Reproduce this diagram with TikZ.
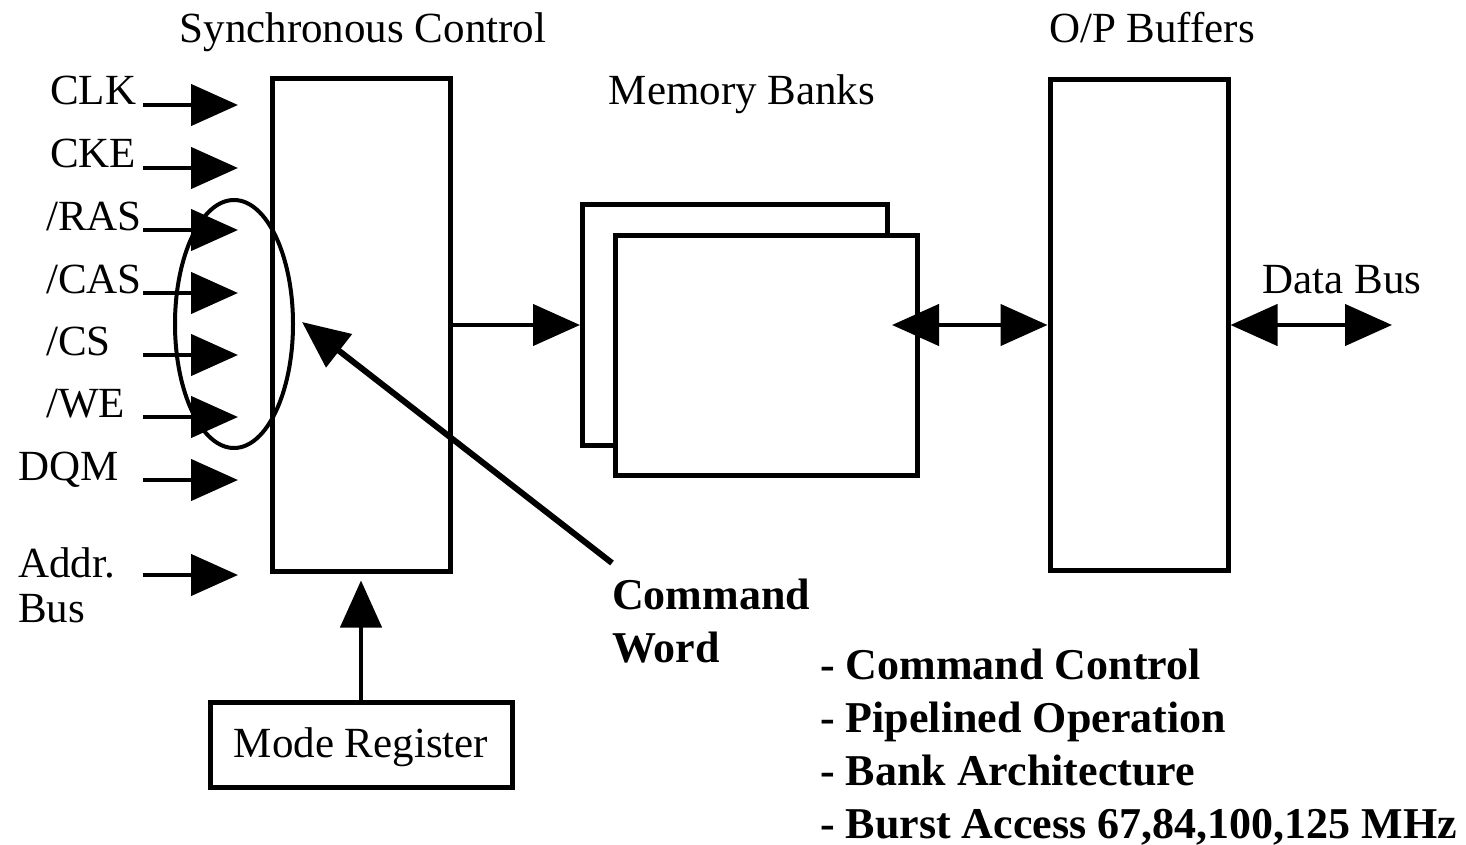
\documentclass[tikz,border=0pt]{standalone}
\usepackage{fontspec}
\setmainfont{Liberation Serif}
\usetikzlibrary{arrows.meta,shapes.geometric,calc}
\begin{document}
\begin{tikzpicture}[x=1pt,y=-1pt,
  box/.style={draw, line width=5pt, inner sep=0pt, fill=white},
  lbl/.style={font=\fontsize{43}{45}\selectfont, inner sep=0pt},
  bold/.style={font=\fontsize{44}{53}\selectfont\bfseries, inner sep=0pt},
  arr/.style={line width=4.5pt, -{Triangle[length=47pt,width=41pt]}},
  darr/.style={line width=4.5pt, {Triangle[length=47pt,width=41pt]}-{Triangle[length=47pt,width=41pt]}},
]
\useasboundingbox (0,0) rectangle (1466,845);

% main blocks
\node[box, minimum width=178, minimum height=492] (sync) at (361,325) {};
\node[box, minimum width=305, minimum height=241] (bankB) at (735,325) {};
\node[box, minimum width=302, minimum height=240] (bankA) at (766,355) {};
\node[box, minimum width=178, minimum height=490] (opb) at (1139,325) {};
\node[box, minimum width=302, minimum height=85, lbl, text depth=4pt] (mode) at (361,745) {Mode Register};

% block titles
\node[lbl, anchor=base] (t-sync) at (363,43) {Synchronous Control};
\node[lbl, anchor=base] (t-bank) at (742,105) {Memory Banks};
\node[lbl, anchor=base] (t-opb) at (1152,43) {O/P Buffers};
\node[lbl, anchor=base] (t-db) at (1342,293) {Data Bus};

% control inputs
\foreach \nm/\txt/\y/\lx in {clk/CLK/105/50, cke/CKE/168/50, ras/{/RAS}/230/46,
    cas/{/CAS}/293/46, cs/{/CS}/355/46, we/{/WE}/417/46, dqm/DQM/480/18} {
  \node[lbl, anchor=base west] (l-\nm) at (\lx,\y) {\txt};
  \coordinate (s-\nm) at (143,\y);
  \coordinate (e-\nm) at (238,\y);
  \draw[arr] (s-\nm) -- (e-\nm);
}
\node[lbl, anchor=base west, align=left] (l-addr) at (18,622) {Addr.\\Bus};
\coordinate (s-addr) at (143,575);
\coordinate (e-addr) at (238,575);
\draw[arr] (s-addr) -- (e-addr);

% command word group
\node[draw, ellipse, line width=4pt, minimum width=118, minimum height=248, inner sep=0pt] (grp) at (234,324) {};
\node[bold, anchor=base west, align=left] (cw) at (612,662) {Command\\Word};
\coordinate (cw-tail) at (612,563);
\draw[arr, line width=6pt] (cw-tail) -- ($(grp.east)+(7,-2)$);

% data paths
\draw[arr] (sync.east) -- (bankB.west);
\coordinate (bk-port) at (892,325);
\draw[darr] (bk-port) -- (opb.west);
\coordinate (db-end) at (1392,325);
\draw[darr] (opb.east) -- (db-end);
\draw[arr] (mode.north) -- ($(sync.south)+(0,7)$);

% feature list
\node[bold, anchor=base west, align=left] (feat) at (820,838)
  {- Command Control\\- Pipelined Operation\\- Bank Architecture\\- Burst Access 67,84,100,125 MHz};
\end{tikzpicture}
\end{document}
